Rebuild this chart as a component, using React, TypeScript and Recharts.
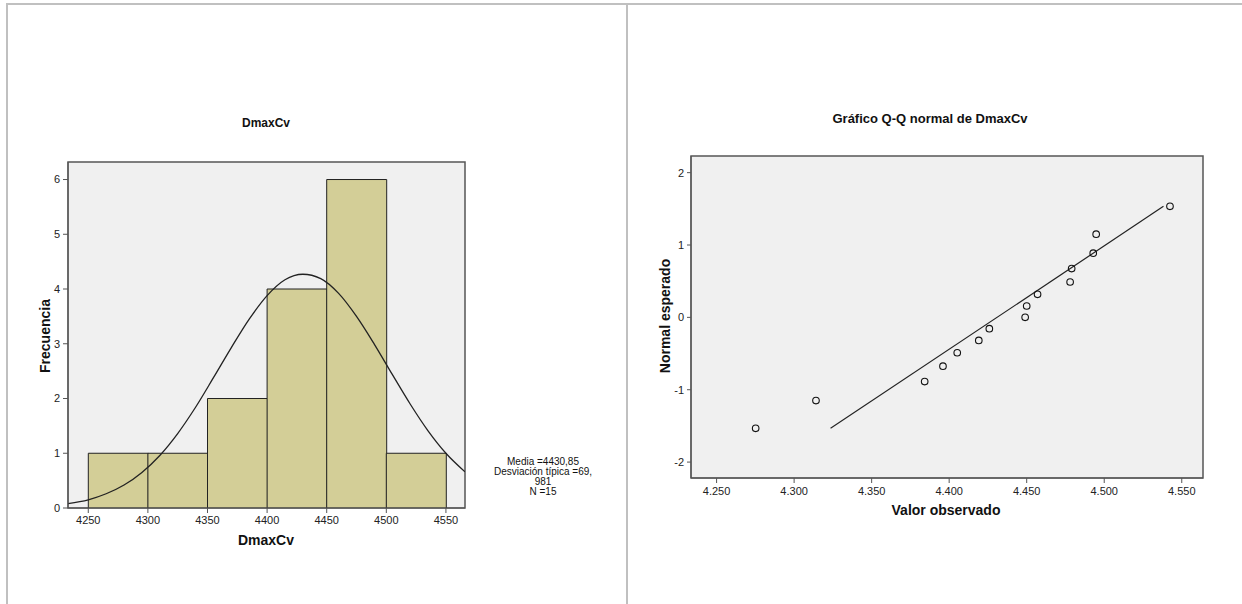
import {
	ComposedChart,
	ScatterChart,
	Bar,
	Line,
	Scatter,
	XAxis,
	YAxis,
	CartesianGrid,
	ReferenceArea,
	ReferenceLine,
} from "recharts"

// histogram bins of DmaxCv
const binNames = ["4250-4300", "4300-4350", "4350-4400", "4400-4450", "4450-4500", "4500-4550"]
const binCounts = [1, 1, 2, 4, 6, 1]
const histTicks = [4250, 4300, 4350, 4400, 4450, 4500, 4550]
const freqTicks = [0, 1, 2, 3, 4, 5, 6]

// normal curve
const curveX = [4233, 4250, 4265, 4280, 4295, 4310, 4325, 4340, 4355, 4370, 4385, 4400, 4415, 4430, 4445, 4460, 4475, 4490, 4505, 4520, 4535, 4550, 4566]
const curveY = [0.08, 0.15, 0.26, 0.42, 0.65, 0.96, 1.36, 1.84, 2.38, 2.93, 3.45, 3.88, 4.17, 4.27, 4.19, 3.92, 3.5, 2.99, 2.44, 1.9, 1.41, 1.0, 0.66]

// Q-Q plot
const observed = [4275.2, 4314.1, 4384.2, 4396.0, 4405.2, 4419.1, 4425.9, 4449.0, 4450.0, 4457.0, 4478.0, 4479.0, 4492.9, 4494.8, 4542.4]
const expected = [-1.534, -1.15, -0.887, -0.674, -0.489, -0.319, -0.157, 0, 0.157, 0.319, 0.489, 0.674, 0.887, 1.15, 1.534]
const fitLine = [
	{ x: 4323.5, y: -1.534 },
	{ x: 4538.2, y: 1.534 },
]
const qqXTicks = [4250, 4300, 4350, 4400, 4450, 4500, 4550]
const qqYTicks = [-2, -1, 0, 1, 2]

const statsLines = ["Media =4430,85", "Desviación típica =69,", "981", "N =15"]

const histData = binNames.map((bin, i) => ({ bin, count: binCounts[i] }))
const curveData = curveX.map((x, i) => ({ x, y: curveY[i] }))
const qqData = observed.map((x, i) => ({ x, y: expected[i] }))

const FONT = "'Liberation Sans', Arial, sans-serif"
const tickStyle = { fill: "#222", fontSize: 11, fontFamily: FONT }
const axisStroke = "#555"

const Txt = ({ x, y, children, size = 13, bold = true, rotate = false }: any) => (
	<div
		style={{
			position: "absolute",
			left: x,
			top: y,
			transform: `translate(-50%, -50%)${rotate ? " rotate(-90deg)" : ""}`,
			fontFamily: FONT,
			fontSize: size,
			fontWeight: bold ? "bold" : "normal",
			color: "#111",
			whiteSpace: "nowrap",
			lineHeight: 1,
		}}
	>
		{children}
	</div>
)

const OpenDot = (props: any) => {
	const { cx, cy } = props
	return <circle cx={cx} cy={cy} r={3.3} fill="none" stroke="#111" strokeWidth={1.1} />
}

const fmtThousands = (v: number) => {
	const s = String(v)
	return s.slice(0, 1) + "." + s.slice(1)
}

export default function App() {
	return (
		<div style={{ position: "absolute", left: 0, top: 0, width: 1242, height: 604, background: "#fff", overflow: "hidden" }}>
			{/* frame lines */}
			<div style={{ position: "absolute", left: 6, top: 3, width: 1236, height: 2, background: "#c0c0c0" }} />
			<div style={{ position: "absolute", left: 6, top: 3, width: 2, height: 601, background: "#c0c0c0" }} />
			<div style={{ position: "absolute", left: 626, top: 3, width: 2, height: 601, background: "#c0c0c0" }} />

			{/* histogram */}
			<div style={{ position: "absolute", left: 0, top: 0 }}>
				<ComposedChart
					width={620}
					height={604}
					data={histData}
					margin={{ top: 162, right: 155, bottom: 66, left: 38 }}
					barCategoryGap={0}
					barGap={0}
				>
					<CartesianGrid fill="#f0f0f0" horizontal={false} vertical={false} />
					<XAxis xAxisId="bins" dataKey="bin" type="category" hide height={0} padding={{ left: 20.3, right: 19.1 }} />
					<XAxis
						xAxisId="val"
						dataKey="x"
						type="number"
						domain={[4233, 4566]}
						ticks={histTicks}
						allowDataOverflow
						height={30}
						tick={tickStyle}
						tickSize={5}
						tickMargin={3}
						stroke={axisStroke}
					/>
					<YAxis
						domain={[0, 6.32]}
						ticks={freqTicks}
						allowDataOverflow
						width={30}
						tick={tickStyle}
						tickSize={5}
						tickMargin={3}
						stroke={axisStroke}
					/>
					<Bar xAxisId="bins" dataKey="count" fill="#d3ce97" stroke="#222" strokeWidth={1} isAnimationActive={false} />
					<Line
						xAxisId="val"
						data={curveData}
						dataKey="y"
						type="monotone"
						dot={false}
						stroke="#222"
						strokeWidth={1.3}
						isAnimationActive={false}
					/>
					<ReferenceArea xAxisId="val" x1={4233} x2={4566} y1={0} y2={6.32} fill="none" stroke={axisStroke} strokeWidth={1.5} />
				</ComposedChart>
			</div>

			<Txt x={266} y={123} size={12}>DmaxCv</Txt>
			<Txt x={45} y={336} size={14} rotate>Frecuencia</Txt>
			<Txt x={266} y={540} size={14}>DmaxCv</Txt>
			{statsLines.map((s, i) => (
				<Txt key={s} x={543} y={462 + i * 10} size={10} bold={false}>
					{s}
				</Txt>
			))}

			{/* Q-Q plot */}
			<div style={{ position: "absolute", left: 627, top: 0 }}>
				<ScatterChart width={615} height={604} margin={{ top: 156, right: 39, bottom: 96, left: 34 }}>
					<CartesianGrid fill="#f0f0f0" horizontal={false} vertical={false} />
					<XAxis
						type="number"
						dataKey="x"
						domain={[4233.5, 4563.7]}
						ticks={qqXTicks}
						tickFormatter={fmtThousands}
						allowDataOverflow
						height={30}
						tick={tickStyle}
						tickSize={5}
						tickMargin={4}
						stroke={axisStroke}
					/>
					<YAxis
						type="number"
						dataKey="y"
						domain={[-2.22, 2.23]}
						ticks={qqYTicks}
						allowDataOverflow
						width={30}
						tick={tickStyle}
						tickSize={4}
						tickMargin={3}
						stroke={axisStroke}
					/>
					<ReferenceLine segment={fitLine} stroke="#222" strokeWidth={1.2} />
					<Scatter data={qqData} shape={OpenDot} isAnimationActive={false} />
					<ReferenceArea x1={4233.5} x2={4563.7} y1={-2.22} y2={2.23} fill="none" stroke={axisStroke} strokeWidth={1.5} />
				</ScatterChart>
			</div>

			<Txt x={930} y={118} size={13}>Gráfico Q-Q normal de DmaxCv</Txt>
			<Txt x={665} y={316} size={14} rotate>Normal esperado</Txt>
			<Txt x={946} y={510} size={14}>Valor observado</Txt>
		</div>
	)
}
